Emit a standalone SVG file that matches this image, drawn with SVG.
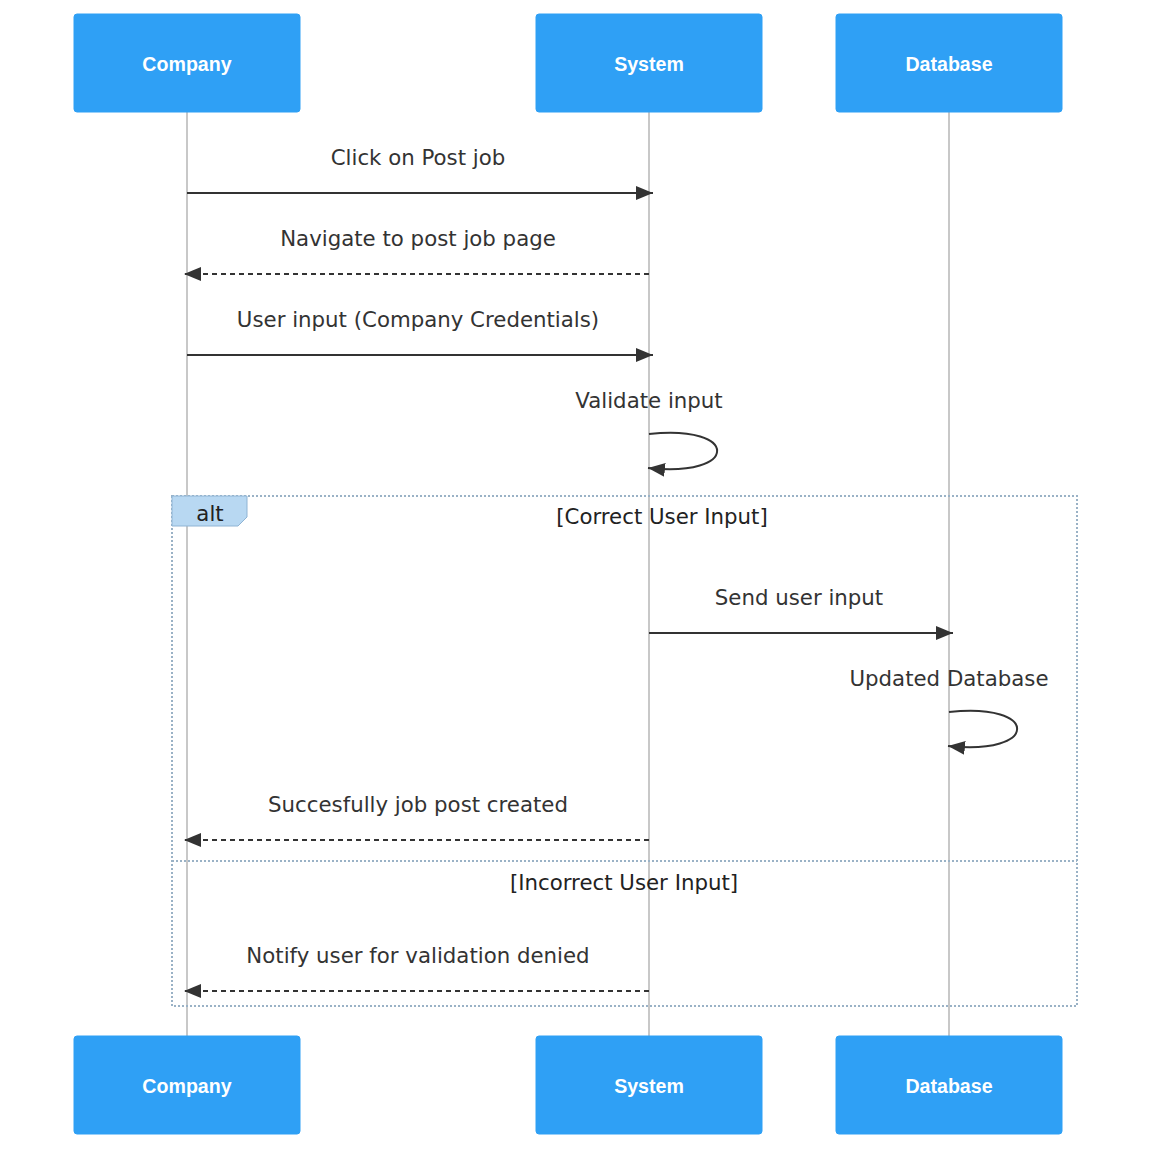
<svg xmlns="http://www.w3.org/2000/svg" width="1152" height="1150" viewBox="0 0 1152 1150">
  <style>
    .actor rect { fill: #2fa0f5; stroke: #2fa0f5; }
    .actor text { font-family: "Liberation Sans", Arial, sans-serif; font-weight: bold; font-size: 19.6px; fill: #ffffff; text-anchor: middle; dominant-baseline: central; }
    .lifeline { stroke: #c8c8c8; stroke-width: 2; }
    .msg { stroke: #333333; stroke-width: 2; fill: none; }
    .dashed { stroke-dasharray: 5 4; }
    .label { font-family: "DejaVu Sans", Verdana, sans-serif; font-size: 21.3px; fill: #333333; text-anchor: middle; dominant-baseline: central; }
    .frame { fill: none; stroke: #9ab2c6; stroke-width: 2; stroke-dasharray: 2 2; }
    .section { font-family: "DejaVu Sans", Verdana, sans-serif; font-size: 21.3px; fill: #222222; text-anchor: middle; dominant-baseline: central; }
  </style>
  <defs>
    <marker id="arrowhead" viewBox="0 0 17 14" refX="17" refY="7" markerWidth="17" markerHeight="14" markerUnits="userSpaceOnUse" orient="auto">
      <path d="M0,0 L17,7 L0,14 z" fill="#333333"/>
    </marker>
  </defs>

  <rect width="1152" height="1150" fill="#ffffff"/>

  <!-- lifelines -->
  <g id="lifelines">
    <line class="lifeline" x1="187" y1="112" x2="187" y2="1036"/>
    <line class="lifeline" x1="649" y1="112" x2="649" y2="1036"/>
    <line class="lifeline" x1="949" y1="112" x2="949" y2="1036"/>
  </g>

  <!-- alt frame -->
  <g id="alt-frame">
    <rect class="frame" x="172" y="496" width="905" height="510"/>
    <line class="frame" x1="172" y1="861" x2="1077" y2="861"/>
    <path d="M172,496 L247,496 L247,517 L238,526 L172,526 z" fill="#b8d8f2" stroke="#8fb4d4" stroke-width="1"/>
    <text class="section" x="210" y="513">alt</text>
    <text class="section" x="662" y="516">[Correct User Input]</text>
    <text class="section" x="624" y="882">[Incorrect User Input]</text>
  </g>

  <!-- actors, top -->
  <g id="actor-company-top" class="actor">
    <rect x="74" y="14" width="226" height="98" rx="3"/>
    <text x="187" y="64">Company</text>
  </g>
  <g id="actor-system-top" class="actor">
    <rect x="536" y="14" width="226" height="98" rx="3"/>
    <text x="649" y="64">System</text>
  </g>
  <g id="actor-database-top" class="actor">
    <rect x="836" y="14" width="226" height="98" rx="3"/>
    <text x="949" y="64">Database</text>
  </g>

  <!-- actors, bottom -->
  <g id="actor-company-bottom" class="actor">
    <rect x="74" y="1036" width="226" height="98" rx="3"/>
    <text x="187" y="1086">Company</text>
  </g>
  <g id="actor-system-bottom" class="actor">
    <rect x="536" y="1036" width="226" height="98" rx="3"/>
    <text x="649" y="1086">System</text>
  </g>
  <g id="actor-database-bottom" class="actor">
    <rect x="836" y="1036" width="226" height="98" rx="3"/>
    <text x="949" y="1086">Database</text>
  </g>

  <!-- messages -->
  <g id="messages">
    <text class="label" x="418" y="157">Click on Post job</text>
    <line class="msg" x1="187" y1="193" x2="653" y2="193" marker-end="url(#arrowhead)"/>

    <text class="label" x="418" y="238">Navigate to post job page</text>
    <line class="msg dashed" x1="649" y1="274" x2="184" y2="274" marker-end="url(#arrowhead)"/>

    <text class="label" x="418" y="319">User input (Company Credentials)</text>
    <line class="msg" x1="187" y1="355" x2="653" y2="355" marker-end="url(#arrowhead)"/>

    <text class="label" x="649" y="400">Validate input</text>
    <path class="msg" d="M649,434 C740,424 740,478 648,468" marker-end="url(#arrowhead)"/>

    <text class="label" x="799" y="597">Send user input</text>
    <line class="msg" x1="649" y1="633" x2="953" y2="633" marker-end="url(#arrowhead)"/>

    <text class="label" x="949" y="678">Updated Database</text>
    <path class="msg" d="M949,712 C1040,702 1040,756 948,746" marker-end="url(#arrowhead)"/>

    <text class="label" x="418" y="804">Succesfully job post created</text>
    <line class="msg dashed" x1="649" y1="840" x2="184" y2="840" marker-end="url(#arrowhead)"/>

    <text class="label" x="418" y="955">Notify user for validation denied</text>
    <line class="msg dashed" x1="649" y1="991" x2="184" y2="991" marker-end="url(#arrowhead)"/>
  </g>
</svg>
